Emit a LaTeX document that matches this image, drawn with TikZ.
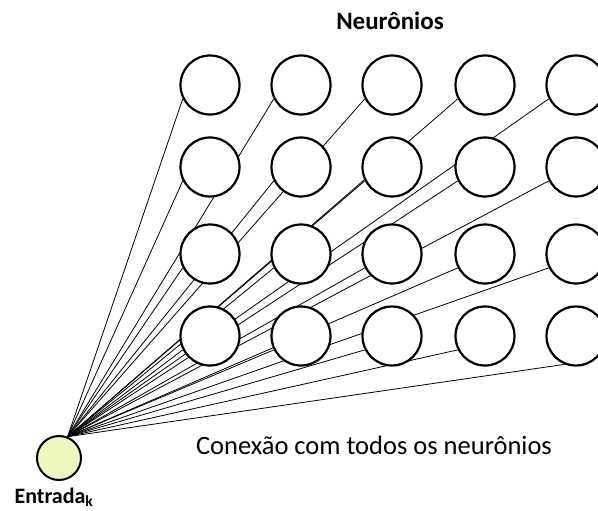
\documentclass[tikz,border=0pt]{standalone}
\usepackage{fontspec}
\setmainfont{Carlito}
\usetikzlibrary{backgrounds}
\definecolor{inputfill}{RGB}{238,248,190}
\begin{document}
\begin{tikzpicture}[
    x=1pt, y=-1pt,
    neuron/.style={draw, circle, line width=2.2pt, fill=white, minimum size=59pt, inner sep=0pt},
    entrada/.style={draw, circle, line width=2pt, fill=inputfill, minimum size=44pt, inner sep=0pt},
    link/.style={line width=0.8pt},
    caption/.style={font=\fontsize{26.5}{30}\selectfont, anchor=base}
]
    \useasboundingbox (0,0) rectangle (598,511);
    \clip (0,0) rectangle (598,511);
    % Input
    \node[entrada] (in) at (59,458) {};
    \coordinate (src) at (in.68);
    % Neurons
    \foreach \r/\y in {1/85, 2/167, 3/254, 4/336} {
        \foreach \c/\x in {1/210, 2/301, 3/392, 4/485, 5/576} {
            \node[neuron] (n-\r-\c) at (\x,\y) {};
        }
    }
    % Connections
    \begin{scope}[on background layer]
        \foreach \r in {1,...,4} {
            \foreach \c in {1,...,5} {
                \ifnum\r\c=45
                    \draw[link] (src) -- (n-\r-\c.248);
                \else
                    \draw[link] (src) -- (n-\r-\c.207);
                \fi
            }
        }
    \end{scope}
    % Labels
    \node[caption, font=\bfseries\fontsize{25}{30}\selectfont] (title) at (390,30) {Neurônios};
    \node[caption] (conn) at (374,454) {Conexão com todos os neurônios};
    \node[caption, font=\bfseries\fontsize{22}{26}\selectfont] (inlabel) at (54,503) {Entrada\textsubscript{k}};
\end{tikzpicture}
\end{document}
